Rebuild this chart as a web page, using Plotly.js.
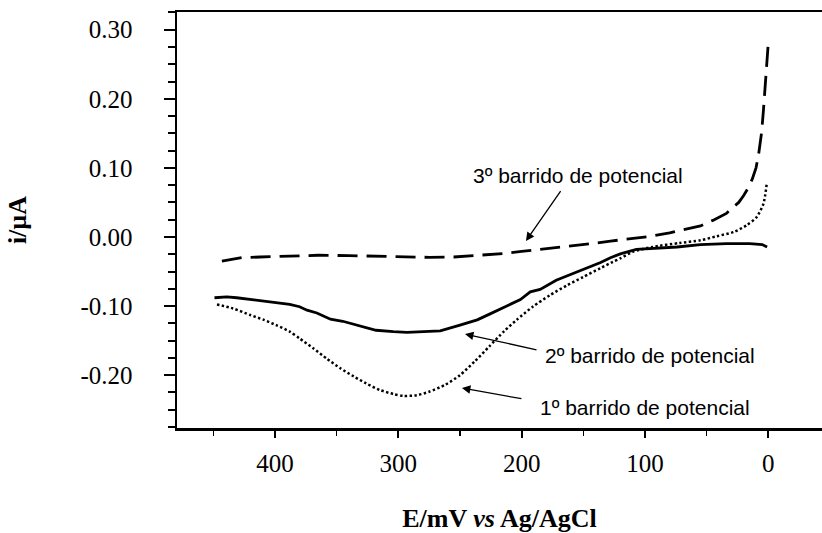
<!DOCTYPE html>
<html>
<head>
<meta charset="utf-8">
<script src="https://cdn.plot.ly/plotly-3.0.1.min.js"></script>
<style>html,body{margin:0;padding:0;background:#fff;}#chart{width:822px;height:533px;}</style>
</head>
<body>
<div id="chart"></div>
<script>
// 3º barrido de potencial (dashed)
const E3 = [443, 427, 412, 390, 365, 340, 315, 295, 275, 255, 235, 215, 200, 185, 165, 145, 128, 110, 95, 80, 66, 55, 45, 34, 30, 24, 20, 16, 13, 10, 8, 5.4, 4, 2.7, 1.3, 0];
const i3 = [-0.035, -0.030, -0.029, -0.0275, -0.0265, -0.027, -0.028, -0.0285, -0.0295, -0.029, -0.027, -0.024, -0.021, -0.018, -0.0145, -0.010, -0.006, -0.002, 0.001, 0.006, 0.011, 0.016, 0.024, 0.034, 0.041, 0.050, 0.060, 0.072, 0.084, 0.100, 0.118, 0.152, 0.183, 0.212, 0.250, 0.282];
// 2º barrido de potencial (solid)
const E2 = [449, 439, 431, 420, 407, 396, 388, 380, 374, 366, 355, 345, 331, 318, 304, 293, 284, 275, 266, 250, 236, 226, 212, 201, 193, 185, 172, 158, 145, 136, 128, 120, 107, 94, 74, 55, 34, 15, 5, 1];
const i2 = [-0.088, -0.0867, -0.088, -0.0905, -0.0934, -0.0968, -0.0977, -0.101, -0.106, -0.110, -0.119, -0.122, -0.129, -0.135, -0.137, -0.138, -0.1375, -0.137, -0.136, -0.1276, -0.120, -0.1117, -0.100, -0.0905, -0.0795, -0.076, -0.0626, -0.053, -0.0434, -0.037, -0.030, -0.0245, -0.018, -0.0168, -0.0145, -0.011, -0.0096, -0.0096, -0.011, -0.0145];
// 1º barrido de potencial (dotted)
const E1 = [447, 434, 420, 409, 399, 388, 380, 369, 358, 347, 336, 326, 315, 304, 296, 285, 275, 262, 250, 238, 226, 214, 204, 191, 177, 163, 150, 136, 126, 120, 110, 94, 72, 55, 42, 28, 17.5, 9.4, 4, 1.3];
const i1 = [-0.0977, -0.1035, -0.113, -0.120, -0.1276, -0.137, -0.1469, -0.161, -0.176, -0.190, -0.202, -0.212, -0.2215, -0.2273, -0.230, -0.229, -0.224, -0.214, -0.200, -0.180, -0.158, -0.136, -0.120, -0.101, -0.0842, -0.0698, -0.0578, -0.045, -0.036, -0.031, -0.0217, -0.0145, -0.0087, -0.0048, 0.001, 0.0072, 0.017, 0.029, 0.048, 0.077];

const xTickVals = [400, 300, 200, 100, 0];
const xTickText = ['400', '300', '200', '100', '0'];
const yTickVals = [-0.2, -0.1, 0, 0.1, 0.2, 0.3];
const yTickText = ['-0.20', '-0.10', '0.00', '0.10', '0.20', '0.30'];

const serif = 'Liberation Serif, Times New Roman, serif';
const sans = 'Liberation Sans, Arial, sans-serif';

const traces = [
  {x: E3, y: i3, mode: 'lines', line: {color: '#000', width: 2.8, dash: '20px,9px'}, name: '3º'},
  {x: E2, y: i2, mode: 'lines', line: {color: '#000', width: 2.8}, name: '2º'},
  {x: E1, y: i1, mode: 'lines', line: {color: '#000', width: 2.5, dash: '2.4px,2.4px', shape: 'spline', smoothing: 0.7}, name: '1º'}
];

const layout = {
  width: 822, height: 533,
  margin: {l: 177, r: 0, t: 12, b: 105},
  paper_bgcolor: '#fff', plot_bgcolor: '#fff',
  showlegend: false,
  xaxis: {
    range: [479.4, -43.5], autorange: false,
    showgrid: false, zeroline: false,
    showline: true, linecolor: '#000', linewidth: 2.5, mirror: true,
    tickmode: 'array', tickvals: xTickVals, ticktext: xTickText,
    ticks: 'outside', ticklen: 7, tickwidth: 2, tickcolor: '#000',
    minor: {dtick: 50, tick0: 0, ticks: 'outside', ticklen: 5, tickwidth: 1.5, tickcolor: '#000'},
    tickfont: {family: serif, size: 25, color: '#000'},
    ticklabelstandoff: 4,
    title: {text: '<b>E/mV <i>vs</i> Ag/AgCl</b>', font: {family: serif, size: 26, color: '#000'}, standoff: 52}
  },
  yaxis: {
    range: [-0.2765, 0.3256], autorange: false,
    showgrid: false, zeroline: false,
    showline: true, linecolor: '#000', linewidth: 2.5,
    tickmode: 'array', tickvals: yTickVals, ticktext: yTickText,
    ticks: 'outside', ticklen: 11, tickwidth: 2, tickcolor: '#000',
    minor: {dtick: 0.025, tick0: 0, ticks: 'outside', ticklen: 7, tickwidth: 2, tickcolor: '#000'},
    tickfont: {family: serif, size: 25, color: '#000'},
    ticklabelstandoff: 26,
    title: {text: '<b>i/µA</b>', font: {family: serif, size: 26, color: '#000'}, standoff: 47}
  },
  annotations: [
    {x: 154.7, y: 0.0892, xref: 'x', yref: 'y', text: '3º barrido de potencial', showarrow: false,
     font: {family: sans, size: 21, color: '#000'}, xanchor: 'center', yanchor: 'middle'},
    {x: 96.3, y: -0.171, xref: 'x', yref: 'y', text: '2º barrido de potencial', showarrow: false,
     font: {family: sans, size: 21, color: '#000'}, xanchor: 'center', yanchor: 'middle'},
    {x: 99.6, y: -0.2475, xref: 'x', yref: 'y', text: '1º barrido de potencial', showarrow: false,
     font: {family: sans, size: 21, color: '#000'}, xanchor: 'center', yanchor: 'middle'},
    {x: 196.5, y: -0.0058, xref: 'x', yref: 'y', text: '', showarrow: true, ax: 35.7, ay: -51.4,
     arrowhead: 2, arrowsize: 1.3, arrowwidth: 1.3, arrowcolor: '#000', standoff: 0},
    {x: 245.9, y: -0.1406, xref: 'x', yref: 'y', text: '', showarrow: true, ax: 73, ay: 16,
     arrowhead: 2, arrowsize: 1.3, arrowwidth: 1.3, arrowcolor: '#000', standoff: 0},
    {x: 248.4, y: -0.2186, xref: 'x', yref: 'y', text: '', showarrow: true, ax: 61, ay: 11,
     arrowhead: 2, arrowsize: 1.3, arrowwidth: 1.3, arrowcolor: '#000', standoff: 0}
  ]
};

Plotly.newPlot('chart', traces, layout, {displayModeBar: false, staticPlot: true});
</script>
</body>
</html>
